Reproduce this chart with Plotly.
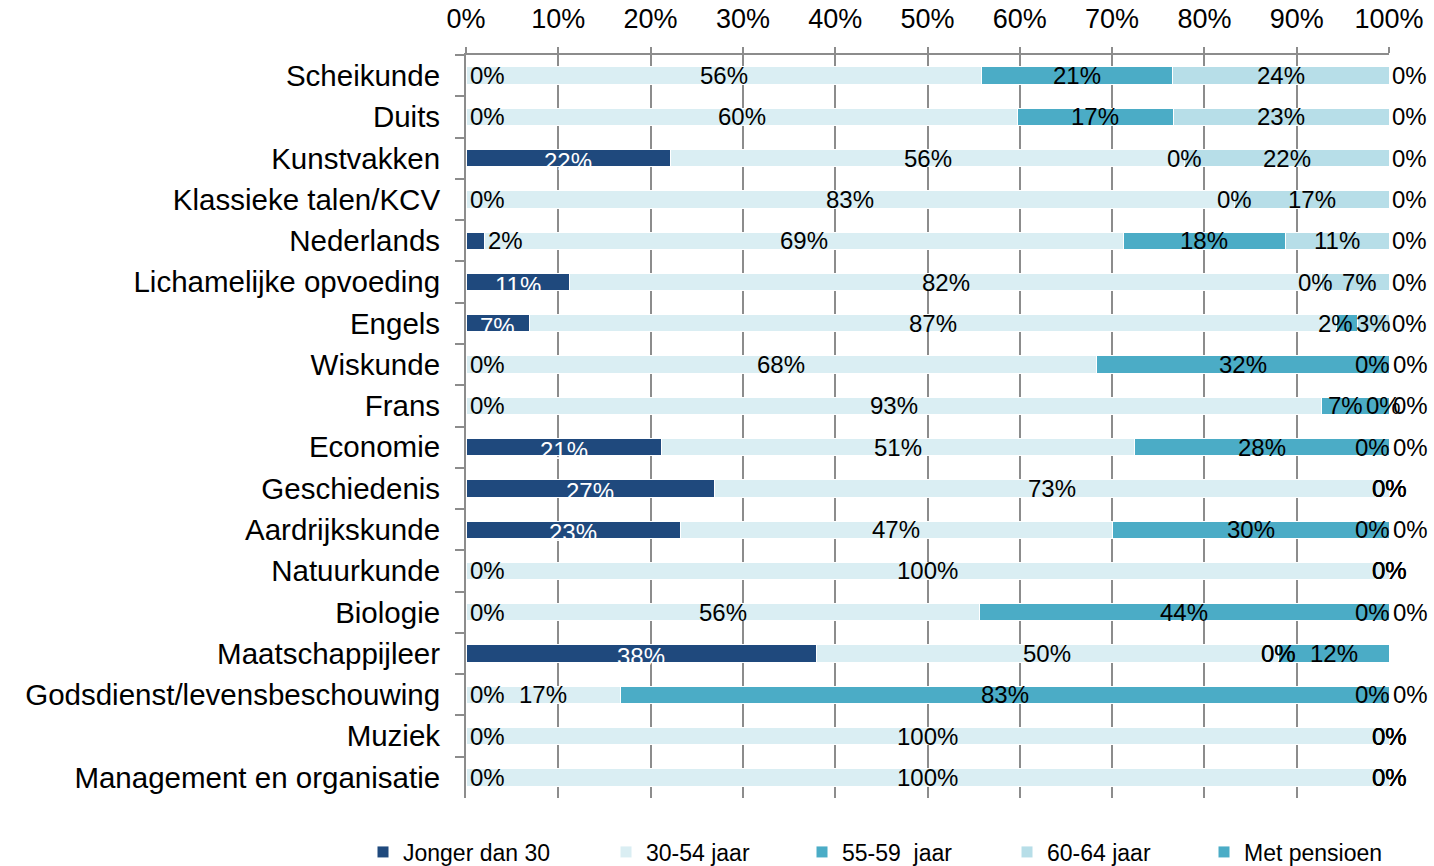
import plotly.graph_objects as go

# Vakken (top to bottom) and age-group shares in percent
categories = [
    "Scheikunde", "Duits", "Kunstvakken", "Klassieke talen/KCV", "Nederlands",
    "Lichamelijke opvoeding", "Engels", "Wiskunde", "Frans", "Economie",
    "Geschiedenis", "Aardrijkskunde", "Natuurkunde", "Biologie",
    "Maatschappijleer", "Godsdienst/levensbeschouwing", "Muziek",
    "Management en organisatie",
]
jonger_dan_30 = [0, 0, 22.2, 0, 2.0, 11.2, 6.9, 0, 0, 21.2, 26.9, 23.2, 0, 0, 38.0, 0, 0, 0]
jaar_30_54 = [55.9, 59.7, 55.6, 83.3, 69.2, 81.5, 87.4, 68.3, 92.7, 51.2, 73.1, 46.8, 100, 55.6, 50.0, 16.7, 100, 100]
jaar_55_59 = [20.6, 16.9, 0, 0, 17.6, 0, 2.3, 31.7, 7.3, 27.6, 0, 30.0, 0, 44.4, 0, 83.3, 0, 0]
jaar_60_64 = [23.5, 23.4, 22.2, 16.7, 11.2, 7.3, 3.4, 0, 0, 0, 0, 0, 0, 0, 0, 0, 0, 0]
met_pensioen = [0, 0, 0, 0, 0, 0, 0, 0, 0, 0, 0, 0, 0, 0, 12.0, 0, 0, 0]

series_names = ["Jonger dan 30", "30-54 jaar", "55-59\u00a0 jaar", "60-64 jaar", "Met pensioen"]
series_values = [jonger_dan_30, jaar_30_54, jaar_55_59, jaar_60_64, met_pensioen]
x_ticks = list(range(0, 101, 10))

colors = ["#1F497D", "#DAEEF3", "#4BACC6", "#B7DEE8", "#4BACC6"]
legend_ids = ["legend", "legend2", "legend3", "legend4", "legend5"]
legend_x_px = [363, 606, 802, 1007, 1204]

# pixel nudges for a few crowded data labels
label_nudge = {
    ("Nederlands", 0): 30,
    ("Engels", 2): -12,
    ("Frans", 2): -10,
    ("Frans", 3): 11,
    ("Lichamelijke opvoeding", 2): -6,
    ("Lichamelijke opvoeding", 3): 4,
}

FONT = "Liberation Sans, Arial, sans-serif"
GRID = "#8C8C8C"

fig = go.Figure()
for name, vals, col, lg in zip(series_names, series_values, colors, legend_ids):
    fig.add_trace(go.Bar(
        y=categories, x=vals, orientation="h", name=name,
        marker=dict(color=col, line=dict(color="white", width=1)),
        legend=lg, showlegend=True, hoverinfo="skip",
    ))

annotations = []
for i, cat in enumerate(categories):
    start = 0.0
    placed = []
    for s, vals in enumerate(series_values):
        v = vals[i]
        placed.append((s, v, min(round(start + v / 2, 6), 100.0)))
        start += v
    trailing = [p for p in placed if p[1] == 0 and abs(p[2] - 100) < 1e-6]
    end_shift = {1: [20], 2: [-17, 21], 3: [0, 0, 0]}.get(len(trailing), [])
    end_map = {p[0]: sh for p, sh in zip(trailing, end_shift)}
    for s, v, xc in placed:
        shift = 0
        if v == 0 and xc < 1e-6:
            shift = 21
        elif s in end_map:
            shift = end_map[s]
        shift += label_nudge.get((cat, s), 0)
        on_dark = s == 0 and v >= 5
        annotations.append(dict(
            x=xc, y=cat, xref="x", yref="y", text=f"{v:.0f}%",
            showarrow=False, xanchor="center", yanchor="middle",
            xshift=shift, yshift=-3 if on_dark else 0,
            font=dict(family=FONT, size=24, color="white" if on_dark else "black"),
        ))

layout_legends = {}
for lg, lx in zip(legend_ids, legend_x_px):
    layout_legends[lg] = dict(
        orientation="h", xref="container", yref="container",
        x=lx / 1434, y=1 - 852 / 866, xanchor="left", yanchor="middle",
        font=dict(family=FONT, size=23, color="black"),
        bgcolor="rgba(0,0,0,0)", borderwidth=0,
    )

fig.update_layout(
    barmode="stack",
    bargap=0.58,
    showlegend=True,
    width=1434, height=866,
    margin=dict(l=466, r=45, t=55, b=68, autoexpand=False),
    paper_bgcolor="white", plot_bgcolor="white",
    font=dict(family=FONT, color="black"),
    annotations=annotations,
    **layout_legends,
)
fig.update_xaxes(
    side="top", range=[0, 100], tickvals=x_ticks, ticktext=[f"{t}%" for t in x_ticks],
    automargin=False,
    showgrid=True, gridcolor=GRID, gridwidth=2, zeroline=False,
    showline=True, linecolor=GRID, linewidth=2,
    ticks="outside", ticklen=6, tickwidth=2, tickcolor=GRID,
    ticklabelstandoff=8,
    tickfont=dict(family=FONT, size=27, color="black"),
)
fig.update_yaxes(
    autorange="reversed", type="category", tickson="boundaries",
    automargin=False,
    showgrid=False, zeroline=False,
    showline=True, linecolor=GRID, linewidth=2,
    ticks="outside", ticklen=9, tickwidth=2, tickcolor=GRID,
    ticklabelstandoff=18,
    tickfont=dict(family=FONT, size=29.5, color="black"),
)

fig.write_html("out.html")
